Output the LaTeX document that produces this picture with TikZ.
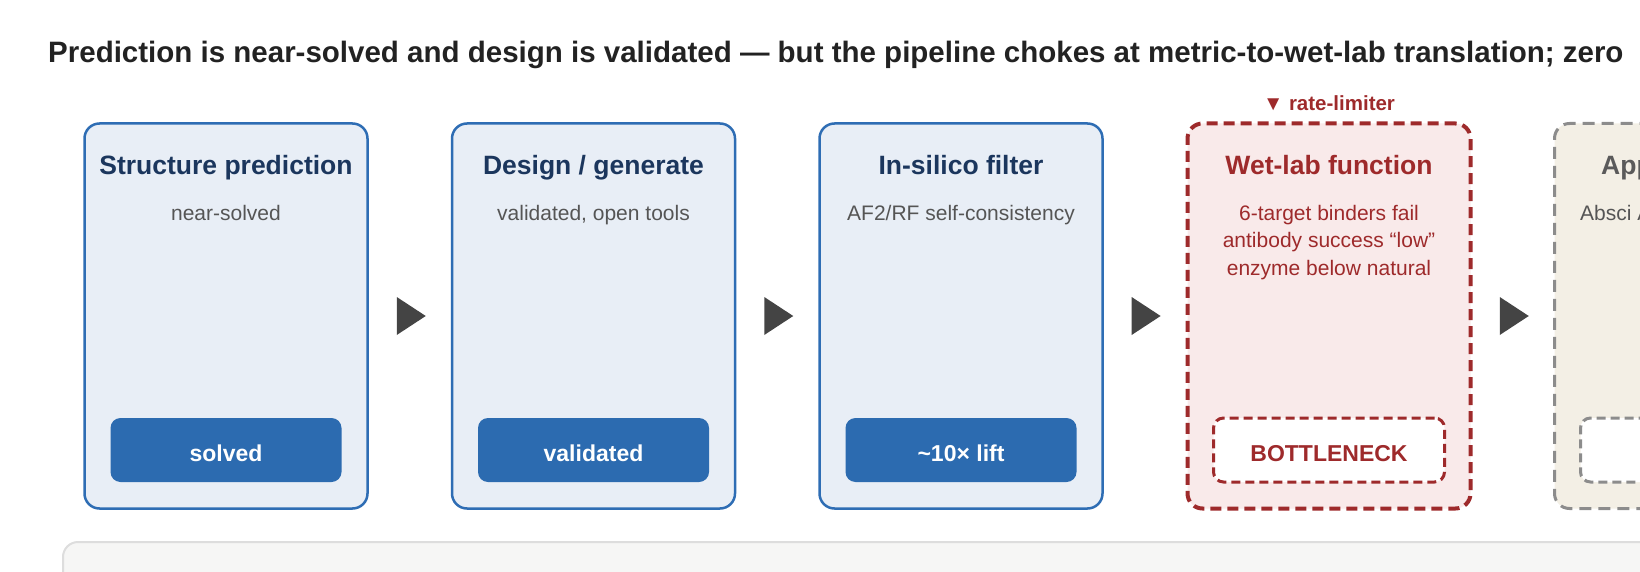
\documentclass[tikz,border=0pt]{standalone}
\usepackage{fontspec}
\setmainfont{Liberation Sans}
\usetikzlibrary{calc}
\definecolor{bluebd}{HTML}{2E6DB4}
\definecolor{bluebg}{HTML}{E8EEF6}
\definecolor{navy}{HTML}{1B365D}
\definecolor{subgray}{HTML}{555555}
\definecolor{btnblue}{HTML}{2C6BB0}
\definecolor{wetred}{HTML}{9E2A2B}
\definecolor{wetbg}{HTML}{F9EAEA}
\definecolor{appbg}{HTML}{F3EFE5}
\definecolor{appgray}{HTML}{8C8C8C}
\definecolor{apptext}{HTML}{5A5A5A}
\definecolor{notebg}{HTML}{F6F6F5}
\definecolor{notebd}{HTML}{DDDDDD}
\definecolor{titlec}{HTML}{222222}
\definecolor{arrc}{HTML}{444444}
\begin{document}
\begin{tikzpicture}[x=1pt,y=-1pt,
		stage/.style={rectangle,rounded corners=15pt,minimum width=283pt,minimum height=385pt,inner sep=0pt},
		okstage/.style={stage,draw=bluebd,fill=bluebg,line width=2.5pt},
		wetstage/.style={stage,draw=wetred,fill=wetbg,line width=4pt,dash pattern=on 11pt off 6pt},
		appstage/.style={stage,draw=appgray,fill=appbg,line width=3pt,dash pattern=on 12pt off 7pt},
		head/.style={anchor=base,inner sep=0pt,font=\fontsize{26.5}{32}\selectfont\bfseries},
		sub/.style={anchor=north,inner sep=0pt,align=center,font=\fontsize{21}{27.5}\selectfont},
		btn/.style={rectangle,rounded corners=10pt,minimum width=231pt,minimum height=64pt,inner sep=0pt,text height=23pt,text depth=0pt,font=\fontsize{23}{28}\selectfont\bfseries},
		okbtn/.style={btn,fill=btnblue,text=white},
		wetbtn/.style={btn,draw=wetred,fill=white,line width=3pt,dash pattern=on 9pt off 5pt,text=wetred},
		appbtn/.style={btn,draw=appgray,fill=white,line width=3pt,dash pattern=on 9pt off 5pt}]
	\useasboundingbox (0,0) rectangle (1640,572);
	\clip (0,0) rectangle (1640,572);
	% tieu de
	\node[anchor=base west,inner sep=0pt,text=titlec,font=\fontsize{29.5}{35}\selectfont\bfseries] (title) at (48,63) {Prediction is near-solved and design is validated — but the pipeline chokes at metric-to-wet-lab translation; zero};
	% hop ghi chu phia duoi
	\draw[draw=notebd,fill=notebg,line width=2pt,rounded corners=15pt] (63,542) rectangle (1700,660);
	% cac buoc
	\node[okstage] (b1) at (226,316) {};
	\node[okstage] (b2) at (593.5,316) {};
	\node[okstage] (b3) at (961,316) {};
	\node[wetstage] (b4) at (1329,316) {};
	\node[appstage] (b5) at (1696,316) {};
	\node[anchor=base,inner sep=0pt,text=wetred,font=\fontsize{20.5}{24}\selectfont\bfseries] (rl) at (1329,110.7) {▼ rate-limiter};
	\node[head,text=navy] (h1) at (226,175) {Structure prediction};
	\node[head,text=navy] (h2) at (593.5,175) {Design / generate};
	\node[head,text=navy] (h3) at (961,175) {In-silico filter};
	\node[head,text=wetred] (h4) at (1329,175) {Wet-lab function};
	\node[head,anchor=base west,text=apptext] (h5) at (1601,175) {App};
	\node[sub,text=subgray] (s1) at (226,205) {near-solved};
	\node[sub,text=subgray] (s2) at (593.5,205) {validated, open tools};
	\node[sub,text=subgray] (s3) at (961,205) {AF2/RF self-consistency};
	\node[sub,text=wetred] (s4) at (1329,205) {6-target binders fail\\antibody success “low”\\enzyme below natural};
	\node[sub,anchor=base west,text=subgray] (s5) at (1580,220) {Absci A};
	\node[okbtn] (k1) at (226,450) {solved};
	\node[okbtn] (k2) at (593.5,450) {validated};
	\node[okbtn] (k3) at (961,450) {\textasciitilde10× lift};
	\node[wetbtn] (k4) at (1329,450) {BOTTLENECK};
	\node[appbtn] (k5) at (1696,450) {};
	% mui ten giua cac buoc
	\foreach \i/\j in {1/2,2/3,3/4,4/5}{
		\coordinate (m\i) at ($(b\i.east)!.5!(b\j.west)$);
		\fill[arrc] ($(m\i)+(-13,-19)$) -- ($(m\i)+(16,0)$) -- ($(m\i)+(-13,19)$) -- cycle;
	}
\end{tikzpicture}
\end{document}
